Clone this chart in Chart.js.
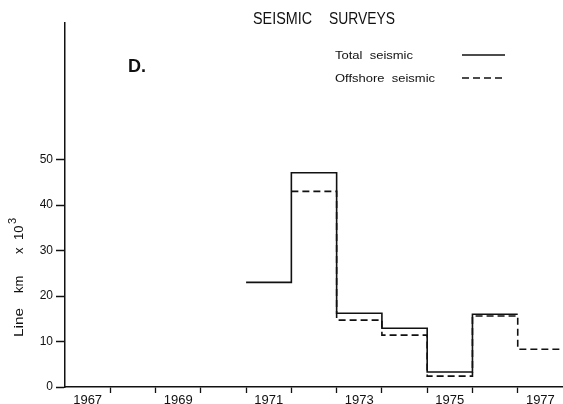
<!DOCTYPE html>
<html>
<head>
<meta charset="utf-8">
<script src="https://cdn.jsdelivr.net/npm/chart.js@4.4.0/dist/chart.umd.min.js"></script>
<style>
  html, body { margin: 0; padding: 0; background: #fff; }
  #wrap { width: 563px; height: 404px; }
</style>
</head>
<body>
<div id="wrap"><canvas id="seismic"></canvas></div>
<script>
// values (line km x 1000 per year)
var totalYears = [1971, 1972, 1973, 1974, 1975, 1976];
var totalValues = [23.0, 47.1, 16.2, 12.9, 3.3, 16.0];
var offshoreYears = [1972, 1973, 1974, 1975, 1976, 1977];
var offshoreValues = [43.0, 14.7, 11.4, 2.4, 15.6, 8.3];
var yTicks = [0, 10, 20, 30, 40, 50];
var yearLabels = [1967, 1969, 1971, 1973, 1975, 1977];
var yearBounds = [1968, 1969, 1970, 1971, 1972, 1973, 1974, 1975, 1976, 1977];

var ink = '#111';
var fontFamily = '"Liberation Sans", Arial, Helvetica, sans-serif';

// each value is held for the whole year, so close the last step one year later
function steps(years, values) {
    var pts = [];
    for (var i = 0; i < years.length; i++) {
        pts.push({x: years[i], y: values[i]});
    }
    pts.push({x: years[years.length - 1] + 1, y: values[values.length - 1]});
    return pts;
}

// draws text squeezed/stretched to a given width (the original lettering is condensed)
function drawFit(ctx, text, x, y, font, width) {
    ctx.save();
    ctx.font = font;
    var w = ctx.measureText(text).width;
    ctx.translate(x, y);
    ctx.scale(width / w, 1);
    ctx.fillText(text, 0, 0);
    ctx.restore();
}

var decorations = {
    id: 'decorations',
    afterDraw: function(chart) {
        var ctx = chart.ctx;
        ctx.save();
        ctx.fillStyle = ink;
        ctx.strokeStyle = ink;
        ctx.textAlign = 'left';
        ctx.textBaseline = 'alphabetic';

        // title
        drawFit(ctx, 'SEISMIC', 253, 24, '16px ' + fontFamily, 59);
        drawFit(ctx, 'SURVEYS', 329, 24, '16px ' + fontFamily, 66);

        // panel letter
        ctx.font = 'bold 18px ' + fontFamily;
        ctx.fillText('D.', 128, 72);

        // legend
        drawFit(ctx, 'Total  seismic', 335, 59, '11px ' + fontFamily, 78);
        drawFit(ctx, 'Offshore  seismic', 335, 82, '11px ' + fontFamily, 100);
        ctx.lineWidth = 1.5;
        ctx.beginPath();
        ctx.moveTo(462, 55);
        ctx.lineTo(505, 55);
        ctx.stroke();
        ctx.setLineDash([7, 4]);
        ctx.beginPath();
        ctx.moveTo(462, 78);
        ctx.lineTo(505, 78);
        ctx.stroke();
        ctx.setLineDash([]);

        // y axis title, rotated
        ctx.translate(23, 337);
        ctx.rotate(-Math.PI / 2);
        ctx.font = '13px ' + fontFamily;
        drawFit(ctx, 'Line', 0, 0, '13px ' + fontFamily, 29);
        ctx.fillText('km', 44, 0);
        ctx.fillText('x', 83, 0);
        ctx.fillText('10', 97, 0);
        ctx.font = '11px ' + fontFamily;
        ctx.fillText('3', 113, -7);
        ctx.restore();
    }
};

new Chart(document.getElementById('seismic').getContext('2d'), {
    type: 'line',
    data: {
        datasets: [{
            label: 'Total seismic',
            data: steps(totalYears, totalValues),
            stepped: true,
            borderColor: ink,
            borderWidth: 1.6,
            pointRadius: 0,
            fill: false
        }, {
            label: 'Offshore seismic',
            data: steps(offshoreYears, offshoreValues),
            stepped: true,
            borderColor: ink,
            borderWidth: 1.6,
            borderDash: [7, 4],
            pointRadius: 0,
            fill: false
        }]
    },
    options: {
        responsive: true,
        maintainAspectRatio: false,
        animation: false,
        layout: {
            padding: {top: 23, right: 0, bottom: 0, left: 0}
        },
        plugins: {
            legend: {display: false},
            tooltip: {enabled: false},
            title: {display: false}
        },
        scales: {
            x: {
                type: 'linear',
                min: 1967,
                max: 1978,
                afterBuildTicks: function(scale) {
                    var t = yearBounds.map(function(v) { return {value: v}; });
                    yearLabels.forEach(function(v) { t.push({value: v + 0.5}); });
                    t.sort(function(a, b) { return a.value - b.value; });
                    scale.ticks = t;
                },
                afterFit: function(scale) {
                    scale.height = 17;
                },
                border: {color: ink, width: 1.5},
                grid: {
                    drawOnChartArea: false,
                    tickLength: 6,
                    tickWidth: 1.3,
                    tickColor: function(c) {
                        return (c.tick && c.tick.value % 1 !== 0) ? 'rgba(0,0,0,0)' : ink;
                    }
                },
                ticks: {
                    autoSkip: false,
                    maxRotation: 0,
                    minRotation: 0,
                    padding: 0,
                    color: ink,
                    font: {family: fontFamily, size: 13},
                    callback: function(value) {
                        return value % 1 !== 0 ? String(value - 0.5) : '';
                    }
                }
            },
            y: {
                min: 0,
                max: 80,
                afterBuildTicks: function(scale) {
                    scale.ticks = yTicks.map(function(v) { return {value: v}; });
                },
                afterFit: function(scale) {
                    scale.width = 65;
                },
                border: {color: ink, width: 1.5},
                grid: {
                    drawOnChartArea: false,
                    tickLength: 9,
                    tickWidth: 1.5,
                    tickColor: ink
                },
                ticks: {
                    padding: 3,
                    color: ink,
                    font: {family: fontFamily, size: 12}
                }
            }
        }
    },
    plugins: [decorations]
});
</script>
</body>
</html>
